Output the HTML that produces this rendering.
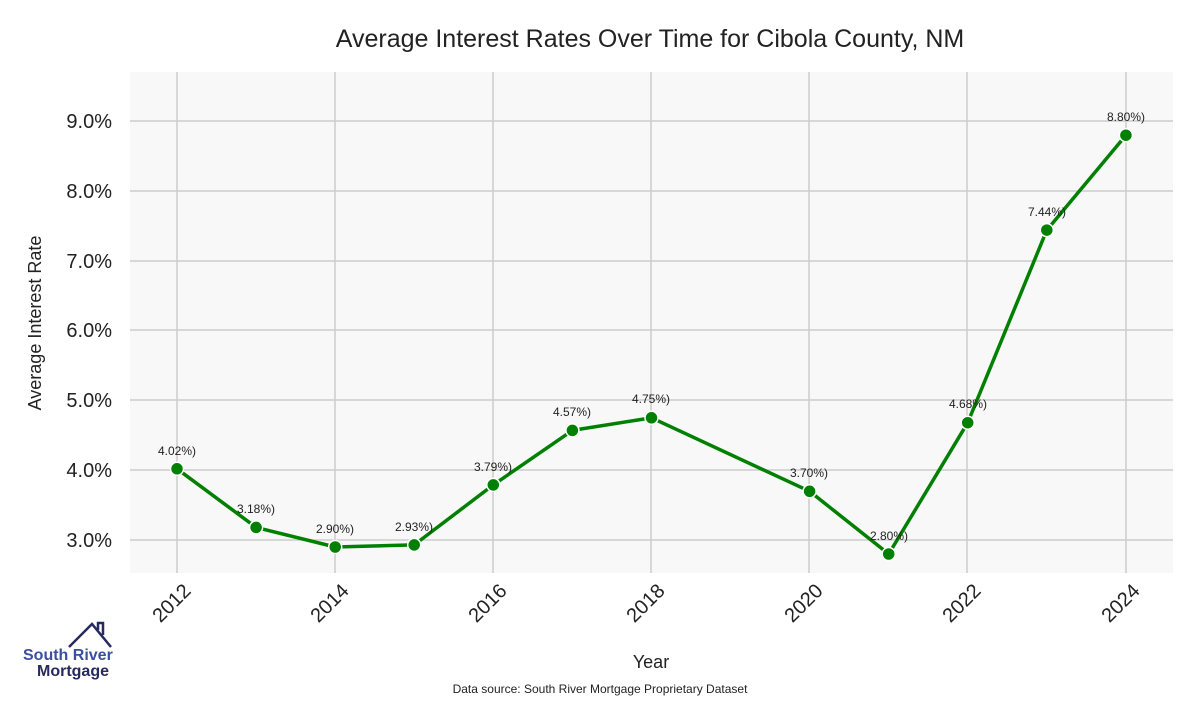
<!DOCTYPE html>
<html><head><meta charset="utf-8"><style>
body{margin:0;background:#fff;}
svg text{font-family:"Liberation Sans",sans-serif;}
</style></head><body>
<svg width="1200" height="700" xmlns="http://www.w3.org/2000/svg">
<rect width="1200" height="700" fill="#fff"/>
<text x="650" y="47" font-size="25" text-anchor="middle" fill="#222">Average Interest Rates Over Time for Cibola County, NM</text>
<rect x="130" y="72" width="1043" height="501" fill="#f8f8f8"/>
<g stroke="#cccccc" stroke-width="1.5">
<line x1="130" x2="1173" y1="121" y2="121"/><line x1="130" x2="1173" y1="191" y2="191"/>
<line x1="130" x2="1173" y1="261" y2="261"/><line x1="130" x2="1173" y1="330" y2="330"/>
<line x1="130" x2="1173" y1="400" y2="400"/><line x1="130" x2="1173" y1="470" y2="470"/>
<line x1="130" x2="1173" y1="540" y2="540"/>
<line y1="72" y2="573" x1="177" x2="177"/><line y1="72" y2="573" x1="335" x2="335"/>
<line y1="72" y2="573" x1="493" x2="493"/><line y1="72" y2="573" x1="651" x2="651"/>
<line y1="72" y2="573" x1="809" x2="809"/><line y1="72" y2="573" x1="967" x2="967"/>
<line y1="72" y2="573" x1="1126" x2="1126"/>
</g>
<g font-size="20" fill="#222" text-anchor="end">
<text x="112" y="128">9.0%</text><text x="112" y="198">8.0%</text><text x="112" y="268">7.0%</text>
<text x="112" y="337">6.0%</text><text x="112" y="407">5.0%</text><text x="112" y="477">4.0%</text>
<text x="112" y="547">3.0%</text>
</g>
<text transform="translate(41,323) rotate(-90)" font-size="18" fill="#222" text-anchor="middle">Average Interest Rate</text>
<g font-size="20" fill="#222" text-anchor="end">
<text transform="translate(192,592) rotate(-45)">2012</text>
<text transform="translate(350,592) rotate(-45)">2014</text>
<text transform="translate(508,592) rotate(-45)">2016</text>
<text transform="translate(666,592) rotate(-45)">2018</text>
<text transform="translate(824,592) rotate(-45)">2020</text>
<text transform="translate(982,592) rotate(-45)">2022</text>
<text transform="translate(1141,592) rotate(-45)">2024</text>
</g>
<text x="651" y="668" font-size="18" fill="#222" text-anchor="middle">Year</text>
<text x="600" y="693" font-size="12" fill="#222" text-anchor="middle">Data source: South River Mortgage Proprietary Dataset</text>
<polyline fill="none" stroke="#008000" stroke-width="3.5" stroke-linejoin="round" points="177,468.8 256.1,527.4 335.2,547 414.2,544.9 493.3,484.9 572.4,430.4 651.5,417.8 809.6,491.3 888.7,554 967.7,422.7 1046.8,230.1 1125.9,135.2"/>
<g fill="#008000" stroke="#fff" stroke-width="1.5">
<circle cx="177" cy="468.8" r="6.5"/><circle cx="256.1" cy="527.4" r="6.5"/><circle cx="335.2" cy="547" r="6.5"/>
<circle cx="414.2" cy="544.9" r="6.5"/><circle cx="493.3" cy="484.9" r="6.5"/><circle cx="572.4" cy="430.4" r="6.5"/>
<circle cx="651.5" cy="417.8" r="6.5"/><circle cx="809.6" cy="491.3" r="6.5"/><circle cx="888.7" cy="554" r="6.5"/>
<circle cx="967.7" cy="422.7" r="6.5"/><circle cx="1046.8" cy="230.1" r="6.5"/><circle cx="1125.9" cy="135.2" r="6.5"/>
</g>
<g font-size="12" fill="#222" text-anchor="middle">
<text x="177" y="455">4.02%)</text><text x="256" y="513">3.18%)</text><text x="335" y="533">2.90%)</text>
<text x="414" y="531">2.93%)</text><text x="493" y="471">3.79%)</text><text x="572" y="416">4.57%)</text>
<text x="651" y="403">4.75%)</text><text x="809" y="477">3.70%)</text><text x="889" y="540">2.80%)</text>
<text x="968" y="408">4.68%)</text><text x="1047" y="216">7.44%)</text><text x="1126" y="121">8.80%)</text>
</g>
<polyline fill="none" stroke="#262a5e" stroke-width="2.5" points="69,647 92,624 111,647"/>
<polyline fill="none" stroke="#262a5e" stroke-width="2.5" points="98,630 98,623 103,623 103,635"/>
<text x="23" y="660" font-size="16" font-weight="bold" fill="#3b4fa0">South River</text>
<text x="37" y="676" font-size="16" font-weight="bold" fill="#262a5e">Mortgage</text>
</svg>
</body></html>
